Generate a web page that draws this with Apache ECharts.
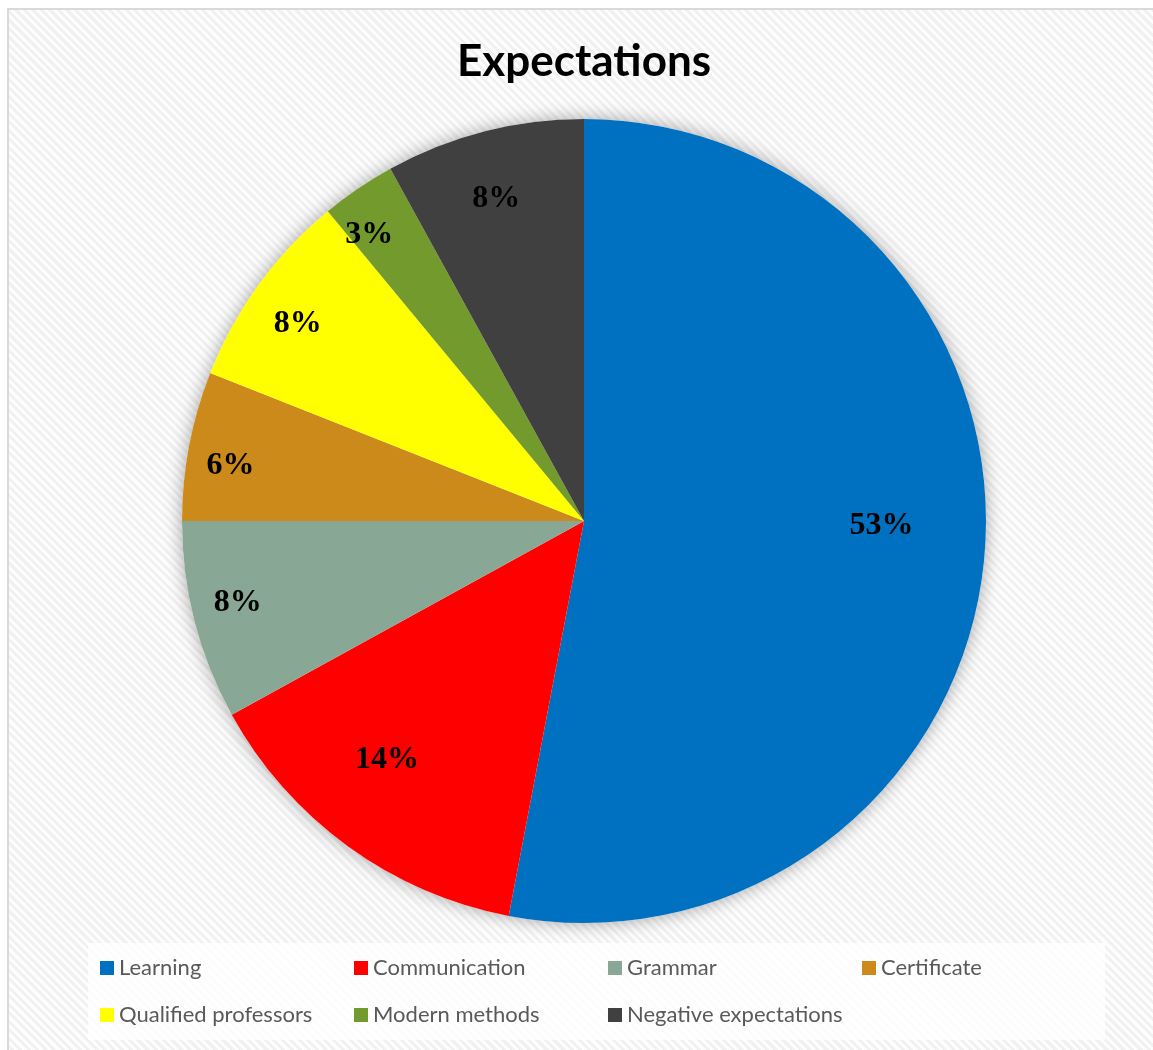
<!DOCTYPE html>
<html>
<head>
<meta charset="utf-8">
<title>Expectations</title>
<script src="https://cdn.jsdelivr.net/npm/echarts@6/dist/echarts.min.js"></script>
<style>
  html, body { margin: 0; padding: 0; background: #ffffff; }
  #frame {
    position: absolute; left: 7px; top: 8px; width: 1160px; height: 1060px;
    border-left: 2px solid #d9d9d9; border-top: 2px solid #d9d9d9;
    background: repeating-linear-gradient(45deg, #fdfdfd 0px, #fdfdfd 3px, #f1f1f1 3px, #f1f1f1 6px);
  }
  #chart { position: absolute; left: 0; top: 0; width: 1153px; height: 1050px; }
</style>
</head>
<body>
<div id="frame"></div>
<div id="chart"></div>
<script>
// Survey answers: what respondents expect (share of answers, %)
const categories = ['Learning', 'Communication', 'Grammar', 'Certificate',
                    'Qualified professors', 'Modern methods', 'Negative expectations'];
const shares = [53, 14, 8, 6, 8, 3, 8];
const colors = ['#0070C0', '#FF0000', '#88A895', '#CC8A1A', '#FFFF00', '#739A2C', '#404040'];

// where each percentage sits: fraction of the radius, and fraction along the slice's arc
const labelRadius = [0.74, 0.77, 0.885, 0.89, 0.865, 0.89, 0.83];
const labelAlong  = [0.476, 0.57, 0.54, 0.41, 0.45, 0.25, 0.47];

const CX = 584, CY = 521, R = 402;

const total = shares.reduce((a, b) => a + b, 0);
const labelAngles = [];
let acc = 0;
shares.forEach((v, i) => {
  labelAngles.push((acc + v * labelAlong[i]) / total * 2 * Math.PI);
  acc += v;
});

const chart = echarts.init(document.getElementById('chart'), null, { renderer: 'canvas' });

chart.setOption({
  backgroundColor: 'transparent',
  animation: false,
  title: {
    text: 'Expectations',
    left: 452,
    top: 35,
    textStyle: { fontFamily: 'Lato', fontWeight: 'bold', fontSize: 44, color: '#000000' }
  },
  legend: {
    data: categories,
    orient: 'horizontal',
    left: 88,
    top: 943,
    width: 1000,
    padding: [12, 10, 12, 12],
    backgroundColor: 'rgba(255,255,255,0.75)',
    icon: 'rect',
    itemWidth: 14,
    itemHeight: 14,
    itemGap: 21,
    selectedMode: false,
    textStyle: {
      fontFamily: 'Lato', fontSize: 22, color: '#595959',
      width: 214, lineHeight: 26, padding: [0, 0, 0, 0]
    }
  },
  series: [
    {
      // soft drop shadow under the whole disc
      type: 'pie',
      silent: true,
      center: [CX, CY],
      radius: [0, R],
      label: { show: false },
      labelLine: { show: false },
      tooltip: { show: false },
      legendHoverLink: false,
      itemStyle: { color: '#ffffff', shadowBlur: 18, shadowColor: 'rgba(0,0,0,0.35)' },
      data: [{ value: 1, name: '' }],
      z: 1
    },
    {
      type: 'pie',
      center: [CX, CY],
      radius: [0, R],
      startAngle: 90,
      clockwise: true,
      z: 2,
      itemStyle: { borderWidth: 0 },
      label: {
        show: true,
        position: 'inside',
        formatter: '{c}%',
        fontFamily: 'Liberation Serif',
        fontWeight: 'bold',
        fontSize: 32,
        color: '#000000'
      },
      labelLine: { show: false },
      labelLayout: function (p) {
        const i = p.dataIndex;
        const a = labelAngles[i];
        const d = labelRadius[i] * R;
        return {
          x: CX + Math.sin(a) * d,
          y: CY - Math.cos(a) * d,
          align: 'center',
          verticalAlign: 'middle'
        };
      },
      data: categories.map((name, i) => ({
        name: name,
        value: shares[i],
        itemStyle: { color: colors[i] }
      }))
    }
  ]
});
</script>
</body>
</html>
